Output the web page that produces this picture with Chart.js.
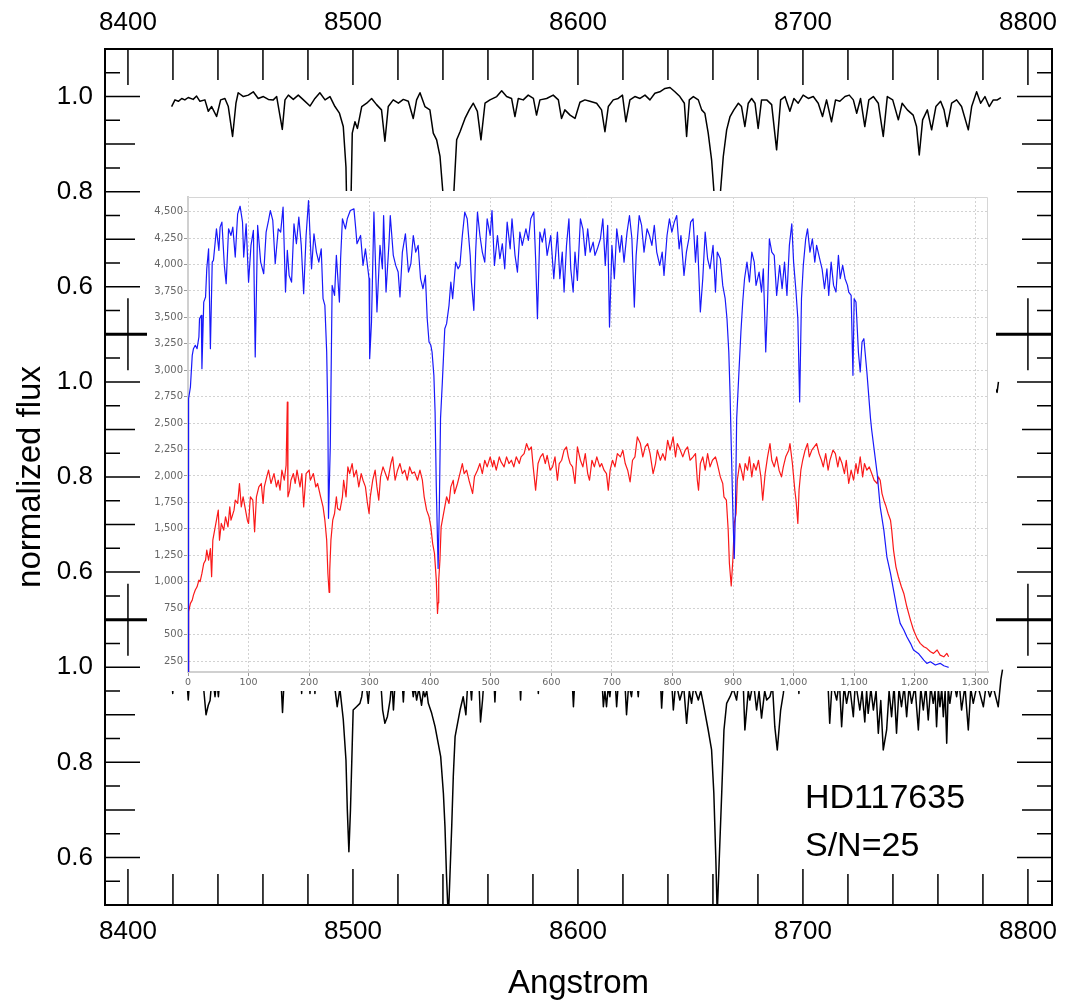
<!DOCTYPE html>
<html>
<head>
<meta charset="utf-8">
<title>HD117635 spectrum</title>
<script src="https://cdn.jsdelivr.net/npm/chart.js@4"></script>
<style>
  html, body { margin: 0; padding: 0; background: #fff; }
  #wrap { position: relative; width: 1066px; height: 1004px; overflow: hidden; }
  #main { position: absolute; left: 0; top: 0; }
  #inset { position: absolute; left: 147px; top: 191px; background: #fff; }
</style>
</head>
<body>
<div id="wrap">
  <canvas id="main" width="1066" height="1004"></canvas>
  <canvas id="inset" width="849" height="500"></canvas>
</div>
<script>
// ---- outer frame: three stacked normalized-flux panels ----
const waveRange = [8389.8, 8810.7];
const fluxRange = [0.5, 1.1];
const waveLabels = [8400, 8500, 8600, 8700, 8800];
const fluxLabels = [0.6, 0.8, 1.0];
const waveTickMarks = [8400, 8420, 8440, 8460, 8480, 8500, 8520, 8540, 8560, 8580, 8600,
                       8620, 8640, 8660, 8680, 8700, 8720, 8740, 8760, 8780, 8800];
const fluxTickMarks = [0.5, 0.55, 0.6, 0.65, 0.7, 0.75, 0.8, 0.85, 0.9, 0.95, 1.0, 1.05, 1.1];

const starName = 'HD117635';
const snLabel = 'S/N=25';

// top panel spectrum [wavelength, flux]
const topSpectrum = [
  [8419.4,0.979],[8420.9,0.993],[8422.4,0.990],[8423.9,0.996],[8425.3,0.993],[8426.8,0.998],
  [8429.0,0.994],[8430.5,1.001],[8432.0,0.990],[8434.2,0.993],[8435.7,0.969],[8437.2,0.979],
  [8439.4,0.958],[8441.2,0.993],[8443.1,0.996],[8444.6,0.979],[8446.5,0.916],[8448.0,0.986],
  [8449.0,1.008],[8451.3,1.000],[8453.5,1.003],[8455.7,1.010],[8457.9,0.996],[8460.2,1.000],
  [8462.4,0.994],[8464.6,0.993],[8466.1,1.000],[8468.6,0.931],[8469.8,0.993],[8471.3,1.003],
  [8473.5,0.994],[8475.7,1.003],[8478.0,0.993],[8480.9,0.980],[8483.1,0.996],[8485.3,1.008],
  [8487.6,0.993],[8489.8,1.000],[8492.0,0.979],[8494.0,0.965],[8495.7,0.937],[8496.9,0.852],
  [8497.5,0.700],[8498.3,0.620],[8499.0,0.750],[8499.7,0.923],[8500.9,0.947],[8502.0,0.933],
  [8503.9,0.979],[8506.1,0.986],[8508.3,0.996],[8510.5,0.983],[8512.7,0.972],[8514.2,0.906],
  [8515.7,0.979],[8517.9,0.993],[8520.2,0.986],[8522.4,0.994],[8524.6,0.990],[8526.8,0.954],
  [8528.3,0.993],[8529.8,1.008],[8532.0,0.979],[8534.2,0.972],[8535.7,0.923],[8537.2,0.909],
  [8538.7,0.874],[8539.9,0.803],[8540.9,0.680],[8542.4,0.560],[8543.9,0.680],[8544.9,0.803],
  [8546.1,0.909],[8547.6,0.926],[8549.8,0.954],[8551.7,0.972],[8553.5,0.986],[8555.3,0.969],
  [8556.9,0.909],[8558.7,0.986],[8560.9,0.993],[8563.9,1.000],[8566.1,1.012],[8568.3,1.000],
  [8570.5,0.996],[8572.0,0.958],[8573.5,0.996],[8575.7,0.993],[8577.9,1.003],[8580.2,0.996],
  [8581.6,0.961],[8583.1,0.993],[8586.1,0.996],[8589.0,1.003],[8591.3,0.993],[8592.7,0.954],
  [8594.2,0.972],[8596.5,0.961],[8598.7,0.954],[8600.9,0.988],[8603.1,0.993],[8605.3,0.990],
  [8608.3,0.986],[8610.5,0.972],[8612.0,0.926],[8613.5,0.979],[8615.7,0.993],[8617.9,0.996],
  [8619.8,1.003],[8621.3,0.947],[8623.1,0.993],[8625.3,1.000],[8627.6,0.996],[8629.8,1.003],
  [8632.0,0.993],[8634.2,1.007],[8636.4,1.010],[8638.7,1.017],[8640.9,1.019],[8643.1,1.010],
  [8645.3,1.000],[8647.3,0.986],[8648.3,0.916],[8649.5,0.993],[8651.3,1.000],[8653.5,0.993],
  [8655.0,0.972],[8656.4,0.965],[8657.9,0.923],[8659.4,0.867],[8660.4,0.803],[8661.3,0.650],
  [8662.3,0.540],[8663.4,0.803],[8664.6,0.874],[8666.1,0.930],[8667.6,0.958],[8669.3,0.972],
  [8671.3,0.986],[8672.7,0.979],[8674.2,0.937],[8675.7,0.986],[8677.2,0.996],[8678.7,0.986],
  [8680.1,0.933],[8681.6,0.993],[8683.9,0.993],[8686.1,0.983],[8688.3,0.888],[8690.1,0.993],
  [8692.0,1.000],[8694.2,0.969],[8696.0,0.996],[8697.9,0.986],[8700.1,1.003],[8702.4,0.996],
  [8704.6,1.000],[8706.8,0.986],[8708.7,0.958],[8710.5,0.993],[8712.7,0.947],[8714.5,0.993],
  [8716.4,0.990],[8718.7,1.000],[8720.6,1.003],[8722.4,0.993],[8723.9,0.965],[8725.6,0.996],
  [8727.5,0.937],[8729.3,0.993],[8731.3,1.000],[8733.5,0.986],[8735.7,0.916],[8737.5,1.000],
  [8739.9,0.993],[8742.4,0.951],[8744.1,0.986],[8746.4,0.972],[8749.0,0.961],[8750.5,0.937],
  [8751.7,0.877],[8753.2,0.951],[8755.3,0.972],[8757.2,0.930],[8759.1,0.979],[8761.2,0.990],
  [8762.7,0.972],[8764.1,0.937],[8766.1,0.986],[8768.3,0.993],[8770.5,0.979],[8773.5,0.930],
  [8775.0,0.979],[8777.2,1.010],[8779.0,0.986],[8780.9,1.000],[8782.8,0.979],[8784.6,0.993],
  [8786.4,0.993],[8788.0,0.998]
];

// middle panel: only the last few Angstrom show past the inset
const midSpectrum = [[8785.0,0.990],[8786.3,0.978],[8786.9,1.000]];

// bottom panel spectrum (S/N=25), only the dips below the inset are visible
const botSpectrum = [
  [8419.4,0.985],[8419.9,0.945],[8420.6,0.995],[8425.8,1.000],[8426.8,0.931],[8427.8,0.998],
  [8433.0,0.990],[8434.7,0.900],[8435.7,0.920],[8436.5,0.930],[8437.5,0.985],[8438.7,0.938],
  [8439.5,0.975],[8440.2,0.938],[8441.3,1.000],[8467.8,0.995],[8468.7,0.905],[8469.7,1.000],
  [8476.7,0.990],[8477.2,0.945],[8477.8,0.995],[8480.5,0.990],[8480.9,0.945],[8481.5,0.995],
  [8482.7,0.990],[8483.1,0.945],[8483.6,0.995],[8491.5,0.990],[8492.0,0.955],[8493.0,0.917],
  [8494.2,0.955],[8495.7,0.890],[8496.9,0.805],[8497.5,0.700],[8498.2,0.612],[8498.9,0.700],
  [8499.7,0.840],[8500.1,0.910],[8501.6,0.917],[8503.1,0.924],[8503.9,0.938],[8505.3,0.990],
  [8506.8,0.924],[8508.0,0.990],[8512.5,0.960],[8513.2,0.910],[8514.2,0.882],[8515.3,0.896],
  [8516.5,0.931],[8517.3,0.970],[8518.0,0.910],[8519.0,0.990],[8521.8,0.975],[8522.4,0.927],
  [8523.2,0.990],[8526.0,0.970],[8526.8,0.938],[8527.5,0.960],[8528.3,0.931],[8529.3,0.955],
  [8530.5,0.920],[8531.3,0.950],[8532.0,0.938],[8532.8,0.950],[8533.5,0.924],[8535.0,0.903],
  [8536.5,0.875],[8537.9,0.840],[8539.0,0.812],[8540.2,0.735],[8540.9,0.665],[8541.6,0.560],
  [8542.4,0.470],[8543.1,0.560],[8543.9,0.665],[8544.6,0.770],[8545.4,0.854],[8546.1,0.872],
  [8547.6,0.910],[8549.0,0.938],[8550.2,0.900],[8551.3,0.990],[8552.2,0.960],[8552.7,0.931],
  [8553.5,0.990],[8556.0,0.970],[8556.7,0.885],[8557.6,0.931],[8558.6,1.000],[8562.5,0.990],
  [8563.1,0.927],[8563.8,1.000],[8574.0,0.990],[8574.5,0.931],[8575.2,1.000],[8582.0,0.990],
  [8582.4,0.945],[8583.0,1.000],[8597.3,0.985],[8598.0,0.917],[8598.8,0.990],[8610.5,0.990],
  [8611.3,0.917],[8612.0,0.950],[8612.7,0.917],[8613.5,0.960],[8614.2,0.938],[8615.3,0.990],
  [8616.5,0.975],[8617.2,0.917],[8618.3,0.990],[8620.8,0.975],[8621.6,0.900],[8622.5,0.960],
  [8623.0,0.955],[8623.8,0.938],[8625.0,0.990],[8626.2,0.970],[8626.8,0.938],[8627.8,1.000],
  [8636.5,0.990],[8637.2,0.914],[8638.2,0.995],[8641.6,0.975],[8642.4,0.910],[8643.5,0.970],
  [8645.3,0.931],[8647.0,0.960],[8648.3,0.882],[8649.5,0.950],[8650.5,0.924],[8651.5,0.960],
  [8653.5,0.931],[8654.6,0.950],[8655.7,0.924],[8657.9,0.868],[8659.4,0.826],[8660.4,0.735],
  [8661.3,0.595],[8661.9,0.480],[8662.8,0.595],[8663.9,0.735],[8664.9,0.868],[8666.1,0.924],
  [8667.6,0.938],[8669.0,0.955],[8670.5,0.931],[8672.0,0.990],[8673.5,0.960],[8674.2,0.868],
  [8675.7,0.950],[8676.4,0.931],[8678.0,0.970],[8679.4,0.910],[8680.5,0.950],[8681.6,0.893],
  [8683.0,0.950],[8683.9,0.931],[8685.3,0.938],[8686.5,0.960],[8687.5,0.875],[8688.6,0.826],
  [8690.1,0.910],[8691.3,0.945],[8692.5,1.000],[8697.8,0.990],[8698.2,0.945],[8698.7,1.000],
  [8711.0,0.980],[8711.9,0.882],[8713.0,0.970],[8714.0,0.950],[8715.0,0.931],[8716.2,0.970],
  [8717.2,0.875],[8718.3,0.960],[8719.4,0.924],[8720.8,0.960],[8722.4,0.896],[8723.2,0.960],
  [8724.0,0.950],[8725.3,0.910],[8726.3,0.950],[8727.5,0.885],[8728.3,0.950],[8729.0,0.903],
  [8730.2,0.955],[8731.3,0.910],[8732.5,0.950],[8733.5,0.861],[8734.6,0.930],[8735.7,0.826],
  [8737.2,0.868],[8738.3,0.950],[8739.4,0.896],[8740.5,0.960],[8741.6,0.861],[8742.7,0.955],
  [8743.8,0.917],[8745.0,0.960],[8746.1,0.896],[8747.2,0.960],[8748.3,0.924],[8749.8,0.960],
  [8751.3,0.868],[8752.4,0.955],[8753.5,0.910],[8754.6,0.960],[8755.7,0.889],[8756.8,0.960],
  [8757.9,0.924],[8758.7,0.950],[8759.4,0.875],[8760.2,0.955],[8760.9,0.917],[8761.7,0.955],
  [8762.4,0.896],[8763.2,0.950],[8763.9,0.840],[8764.6,0.955],[8765.3,0.924],[8766.8,0.975],
  [8768.3,0.938],[8769.4,0.970],[8770.5,0.910],[8772.0,0.960],[8773.5,0.868],[8774.6,0.955],
  [8775.7,0.924],[8777.5,0.965],[8780.2,0.917],[8781.5,0.965],[8783.1,0.938],[8784.5,0.960],
  [8786.8,0.917],[8788.0,0.975],[8788.7,0.995]
];

// ---- inset: raw counts against pixel index ----
const insetXRange = [0, 1321];
const insetYRange = [146, 4639];
const insetXTicks = [0, 100, 200, 300, 400, 500, 600, 700, 800, 900, 1000, 1100, 1200, 1300];
const insetYTicks = [250, 500, 750, 1000, 1250, 1500, 1750, 2000, 2250, 2500, 2750, 3000,
                     3250, 3500, 3750, 4000, 4250, 4500];

const blueCounts = [
  [0,150],[1,2732],[4,2842],[7,3141],[9,3204],[12,3236],[15,3204],[18,3315],[19,3488],[22,3519],
  [23,3015],[26,3645],[29,3693],[31,3960],[34,4149],[37,3204],[40,4023],[42,4039],[47,4338],
  [51,4134],[53,4354],[56,4401],[60,3992],[63,3819],[67,4338],[71,4275],[74,4354],[78,4071],
  [82,4480],[86,4552],[90,4401],[92,4071],[96,4386],[100,3834],[104,4181],[108,4323],[111,3126],
  [115,4370],[120,4023],[125,3913],[129,4307],[133,4417],[136,4511],[140,4417],[144,4008],
  [149,4338],[153,4307],[157,4543],[161,3740],[164,4134],[167,3897],[171,3834],[175,4386],
  [179,4197],[183,4449],[187,4181],[191,3724],[195,4275],[199,4606],[204,3960],[208,4291],
  [212,4118],[216,4023],[220,4149],[223,3677],[226,3614],[229,3173],[231,2543],[232,1600],
  [235,2290],[238,3803],[242,3708],[245,4087],[250,3645],[252,4055],[255,4433],[260,4338],
  [263,4433],[268,4511],[274,4527],[277,4338],[279,4197],[285,4275],[289,3992],[293,4149],
  [299,3866],[300,3110],[303,3456],[307,4496],[312,3551],[317,4181],[321,3960],[323,4464],
  [327,3740],[332,4212],[334,4464],[339,4087],[343,3992],[347,3929],[350,3693],[354,4118],
  [359,4291],[364,3929],[368,4008],[372,4275],[376,4118],[380,4181],[384,3866],[388,3771],
  [392,3897],[395,3488],[398,3267],[401,3236],[403,3173],[406,2952],[408,2606],[410,1900],
  [413,1125],[415,1700],[417,2543],[420,2889],[424,3393],[427,3441],[431,3614],[434,3834],
  [437,3677],[442,4023],[446,3960],[449,3992],[453,4275],[457,4496],[461,4433],[466,4087],
  [468,3834],[472,3567],[475,4118],[478,4496],[482,4275],[486,4118],[490,4023],[494,4433],
  [499,4275],[502,4511],[506,3992],[511,4275],[515,4055],[519,4197],[523,3960],[527,4401],
  [532,4149],[535,4433],[540,4087],[544,3929],[548,4307],[552,4181],[558,4338],[562,4228],
  [566,4433],[571,4496],[574,4055],[577,3488],[581,4307],[585,4212],[589,4338],[593,4087],
  [599,4275],[604,3866],[610,4307],[614,3866],[618,4118],[621,3740],[625,4181],[629,4433],
  [632,3960],[636,3740],[639,4118],[643,3850],[648,4433],[652,4338],[656,4087],[660,4338],
  [664,4118],[669,4212],[672,4087],[676,4149],[681,4244],[685,4433],[689,3992],[693,4370],
  [696,3409],[700,4181],[704,3866],[708,4338],[713,4118],[716,4275],[720,4023],[725,4307],
  [729,4464],[733,4244],[737,3598],[740,4087],[745,4464],[749,4370],[753,4118],[758,4338],
  [762,4275],[766,4181],[770,4370],[774,4118],[779,3992],[783,4118],[786,3897],[791,4275],
  [795,4433],[799,4307],[803,4401],[807,4464],[811,4149],[814,4275],[819,3897],[823,4118],
  [827,4244],[830,4401],[834,4433],[838,4023],[841,4275],[846,3551],[850,3866],[854,4307],
  [858,4055],[862,3960],[867,4181],[871,3740],[874,4118],[879,4055],[883,3803],[887,3677],
  [890,3488],[893,3173],[895,2795],[897,2300],[900,1600],[902,1220],[904,1700],[906,2543],
  [910,3015],[913,3362],[916,3645],[919,3866],[923,4023],[927,3835],[931,4118],[935,4023],
  [938,3803],[943,3929],[947,3740],[950,3960],[954,3173],[957,3645],[960,4244],[964,4118],
  [968,4087],[972,3708],[977,3992],[981,3771],[985,4023],[989,3708],[993,4181],[997,4386],
  [1000,4023],[1004,3740],[1007,3488],[1010,2700],[1013,3677],[1016,3992],[1020,4244],
  [1023,4338],[1027,4118],[1031,4244],[1035,4023],[1038,4181],[1043,4055],[1047,3960],
  [1051,3771],[1055,3960],[1058,3708],[1062,4023],[1066,3803],[1070,3740],[1074,4087],
  [1077,3866],[1081,3992],[1085,3866],[1089,3803],[1091,3740],[1095,3708],[1098,2952],
  [1100,3677],[1103,3645],[1107,3173],[1110,2984],[1113,3267],[1116,3299],[1118,3173],
  [1121,2984],[1124,2763],[1127,2543],[1129,2433],[1138,2023],[1143,1708],[1149,1488],
  [1154,1236],[1160,1078],[1165,921],[1171,732],[1176,606],[1182,543],[1187,480],[1193,417],
  [1198,354],[1206,322],[1215,259],[1220,228],[1226,243],[1234,212],[1242,228],[1248,205],
  [1253,196],[1256,190]
];

const redCounts = [
  [0,150],[1,716],[4,795],[7,826],[9,873],[12,921],[15,952],[18,1015],[20,1000],[23,1078],
  [26,1173],[29,1204],[31,1299],[34,1204],[37,1314],[39,1047],[41,1393],[44,1488],[47,1582],
  [50,1677],[52,1393],[55,1551],[59,1488],[62,1614],[66,1519],[69,1708],[71,1582],[76,1677],
  [78,1771],[82,1740],[85,1929],[88,1708],[91,1803],[95,1677],[98,1582],[100,1551],[103,1803],
  [107,1771],[110,1472],[113,1803],[117,1897],[121,1929],[124,1740],[126,1897],[130,1992],
  [133,2055],[137,1929],[142,2023],[146,1897],[149,1960],[152,1866],[155,2055],[159,1960],
  [162,2100],[164,2700],[165,1803],[168,1866],[170,1960],[174,2023],[177,1929],[180,2055],
  [185,1897],[188,2023],[191,1708],[195,2023],[200,2055],[202,1960],[207,2023],[211,1897],
  [214,1929],[219,1803],[223,1708],[226,1582],[229,1393],[231,1078],[233,900],[234,1100],
  [236,1393],[239,1582],[242,1645],[245,1803],[247,1693],[251,1677],[255,1803],[257,1960],
  [261,1803],[264,2086],[267,2023],[271,2118],[274,1992],[278,2055],[282,1897],[286,2023],
  [289,1960],[293,1897],[296,1755],[299,1645],[301,1803],[305,1960],[309,2055],[312,1897],
  [315,1771],[318,1992],[322,2086],[326,2023],[330,1960],[335,2118],[338,2181],[342,1960],
  [346,2055],[350,2118],[354,2023],[358,2055],[362,1960],[366,2086],[370,2023],[374,2039],
  [379,1960],[383,2055],[387,1960],[390,1803],[394,1677],[398,1614],[401,1519],[404,1361],
  [407,1267],[410,1015],[412,700],[413,800],[414,1015],[416,1204],[418,1519],[421,1614],
  [424,1708],[427,1803],[431,1740],[434,1897],[438,1960],[440,1834],[445,1929],[449,2023],
  [453,2118],[456,2023],[460,2055],[464,1960],[467,1897],[470,1834],[473,1992],[478,2055],
  [482,2118],[486,2023],[490,2149],[494,2086],[499,2181],[503,2086],[505,2149],[509,2055],
  [514,2181],[517,2133],[522,2086],[526,2181],[530,2118],[534,2149],[538,2086],[542,2181],
  [547,2118],[550,2181],[555,2212],[559,2307],[563,2244],[567,2275],[570,2086],[574,1866],
  [578,2118],[582,2181],[586,2212],[590,2118],[593,2196],[598,2055],[602,2086],[606,2181],
  [610,1960],[613,2118],[617,2149],[621,2244],[625,2275],[628,2181],[631,2118],[635,2086],
  [639,1929],[643,2275],[648,2149],[652,2086],[656,2212],[660,2023],[663,1960],[667,2149],
  [671,2086],[675,2181],[680,2086],[683,2118],[687,2055],[691,2023],[694,1866],[697,2055],
  [701,2149],[705,2086],[709,2212],[714,2181],[718,2244],[722,2118],[726,2055],[730,1944],
  [734,2149],[738,2181],[742,2370],[747,2307],[751,2181],[755,2275],[759,2307],[763,2212],
  [768,2023],[772,2118],[775,2244],[780,2149],[784,2212],[788,2149],[792,2338],[796,2244],
  [801,2370],[805,2181],[808,2307],[813,2244],[817,2181],[821,2244],[825,2275],[829,2149],
  [834,2181],[838,2212],[841,1960],[843,1866],[846,2118],[850,2181],[854,2055],[858,2212],
  [862,2086],[866,2149],[871,2181],[874,2118],[879,1992],[883,1929],[885,1803],[889,1771],
  [892,1488],[894,1173],[897,960],[900,1236],[902,1551],[905,1645],[907,1960],[911,2118],
  [915,2023],[917,1960],[920,2118],[924,2055],[927,2181],[931,1992],[934,2118],[938,2055],
  [942,2149],[946,1992],[949,1771],[953,2023],[957,2181],[961,2307],[964,2149],[968,2086],
  [972,2181],[976,2055],[980,1992],[983,2086],[987,2181],[992,2244],[994,2307],[998,2118],
  [1002,1866],[1004,1771],[1007,1551],[1009,1866],[1012,2055],[1015,2149],[1019,2244],
  [1023,2307],[1026,2181],[1030,2244],[1034,2275],[1038,2307],[1042,2212],[1046,2149],
  [1049,2086],[1053,2212],[1057,2055],[1060,2149],[1065,2244],[1069,2212],[1073,2086],
  [1076,2181],[1080,2118],[1084,2023],[1087,2149],[1091,1929],[1095,2055],[1099,1960],
  [1103,2118],[1106,2023],[1110,2181],[1114,1992],[1117,2118],[1121,2055],[1125,2086],
  [1129,2023],[1133,1960],[1138,1929],[1140,1992],[1143,1960],[1146,1834],[1149,1771],
  [1152,1724],[1156,1645],[1160,1582],[1162,1488],[1165,1299],[1169,1141],[1173,1047],
  [1178,952],[1182,889],[1187,763],[1193,637],[1198,543],[1204,464],[1209,417],[1215,385],
  [1220,370],[1226,338],[1231,322],[1237,354],[1242,306],[1248,290],[1253,322],[1256,290]
];

const sansFont = '"Liberation Sans", Arial, Helvetica, sans-serif';
const toPoints = pairs => pairs.map(([x, y]) => ({ x, y }));

// inward tick marks on every panel, panel separators and the outer box
const panelFrame = {
  id: 'panelFrame',
  afterDatasetsDraw(chart) {
    const { ctx, chartArea: area, scales } = chart;
    const xs = scales.x;
    ctx.save();
    ctx.strokeStyle = '#000';
    ctx.lineWidth = 1.5;
    ['yTop', 'yMid', 'yBot'].forEach(id => {
      const ys = scales[id];
      ctx.beginPath();
      waveTickMarks.forEach(w => {
        const px = xs.getPixelForValue(w);
        const len = w % 100 === 0 ? 36 : 31;
        ctx.moveTo(px, ys.top); ctx.lineTo(px, ys.top + len);
        ctx.moveTo(px, ys.bottom); ctx.lineTo(px, ys.bottom - len);
      });
      fluxTickMarks.forEach(f => {
        const py = ys.getPixelForValue(f);
        const k = Math.round(f * 100);
        const len = k % 10 ? 15 : ((k / 10) % 2 ? 30 : 35);
        ctx.moveTo(area.left, py); ctx.lineTo(area.left + len, py);
        ctx.moveTo(area.right, py); ctx.lineTo(area.right - len, py);
      });
      ctx.stroke();
    });
    ctx.lineWidth = 3;
    ctx.beginPath();
    ['yMid', 'yBot'].forEach(id => {
      const t = scales[id].top;
      ctx.moveTo(area.left, t); ctx.lineTo(area.right, t);
    });
    ctx.stroke();
    ctx.lineWidth = 2;
    ctx.strokeRect(area.left, area.top, area.right - area.left, area.bottom - area.top);
    ctx.restore();
  }
};

const starLabel = {
  id: 'starLabel',
  afterDraw(chart) {
    const ctx = chart.ctx;
    ctx.save();
    ctx.font = '34px ' + sansFont;
    ctx.fillStyle = '#000';
    ctx.textBaseline = 'alphabetic';
    ctx.fillText(starName, 805, 808);
    ctx.fillText(snLabel, 805, 856);
    ctx.restore();
  }
};

function panelAxis(weight, title) {
  return {
    type: 'linear',
    position: 'left',
    stack: 'panels',
    stackWeight: 1,
    weight: weight,
    min: fluxRange[0],
    max: fluxRange[1],
    grid: { display: false, drawTicks: false },
    border: { display: false },
    afterBuildTicks: s => { s.ticks = fluxLabels.map(v => ({ value: v })); },
    afterFit: s => { s.width = 105; s.paddingTop = 0; s.paddingBottom = 0; },
    ticks: {
      padding: 12,
      color: '#000',
      font: { family: sansFont, size: 26 },
      callback: v => Number(v).toFixed(1)
    },
    title: title ? {
      display: true,
      text: title,
      color: '#000',
      font: { family: sansFont, size: 33 },
      padding: { top: 11, bottom: 0 }
    } : { display: false }
  };
}

function waveAxis(position, height, title) {
  return {
    type: 'linear',
    position: position,
    min: waveRange[0],
    max: waveRange[1],
    grid: { display: false, drawTicks: false },
    border: { display: false },
    afterBuildTicks: s => { s.ticks = waveLabels.map(v => ({ value: v })); },
    afterFit: s => { s.height = height; s.paddingLeft = 0; s.paddingRight = 0; },
    ticks: {
      padding: 11,
      maxRotation: 0,
      autoSkip: false,
      color: '#000',
      font: { family: sansFont, size: 26 },
      callback: v => String(v)
    },
    title: title ? {
      display: true,
      text: title,
      color: '#000',
      font: { family: sansFont, size: 33 },
      padding: { top: 0, bottom: 0 }
    } : { display: false }
  };
}

function spectrumSet(pairs, yAxisID) {
  return {
    data: toPoints(pairs),
    xAxisID: 'x',
    yAxisID: yAxisID,
    borderColor: '#000',
    borderWidth: 1.5,
    borderJoinStyle: 'round',
    pointRadius: 0,
    tension: 0
  };
}

new Chart(document.getElementById('main'), {
  type: 'line',
  data: {
    datasets: [
      spectrumSet(topSpectrum, 'yTop'),
      spectrumSet(midSpectrum, 'yMid'),
      spectrumSet(botSpectrum, 'yBot')
    ]
  },
  options: {
    responsive: false,
    animation: false,
    devicePixelRatio: 1,
    events: [],
    layout: { padding: { left: 0, right: 14, top: 0, bottom: 0 } },
    plugins: { legend: { display: false }, tooltip: { enabled: false } },
    scales: {
      x: waveAxis('bottom', 99, 'Angstrom'),
      xTop: waveAxis('top', 49, null),
      yBot: panelAxis(1, null),
      yMid: panelAxis(2, 'normalized flux'),
      yTop: panelAxis(3, null)
    }
  },
  plugins: [panelFrame, starLabel]
});

// ---- inset chart ----
const insetBox = {
  id: 'insetBox',
  beforeDatasetsDraw(chart) {
    const { ctx, chartArea: a } = chart;
    ctx.save();
    ctx.strokeStyle = '#d6d6d6';
    ctx.lineWidth = 1;
    ctx.beginPath();
    ctx.moveTo(a.left, a.top + 0.5);
    ctx.lineTo(a.right - 0.5, a.top + 0.5);
    ctx.lineTo(a.right - 0.5, a.bottom);
    ctx.stroke();
    ctx.restore();
  }
};

function insetAxis(range, ticks, fit, fontSize) {
  return {
    type: 'linear',
    min: range[0],
    max: range[1],
    afterBuildTicks: s => { s.ticks = ticks.map(v => ({ value: v })); },
    afterFit: fit,
    grid: { color: '#d2d2d2', lineWidth: 1, tickLength: 4, tickColor: '#999' },
    border: { display: true, color: '#d0d0d0', width: 2, dash: [2, 2] },
    ticks: {
      padding: 1,
      maxRotation: 0,
      autoSkip: false,
      color: '#666',
      font: { family: '"DejaVu Sans", Verdana, sans-serif', size: fontSize }
    }
  };
}

new Chart(document.getElementById('inset'), {
  type: 'line',
  data: {
    datasets: [
      { data: toPoints(blueCounts), borderColor: 'rgb(25,25,250)', borderWidth: 1.2,
        borderJoinStyle: 'round', pointRadius: 0, tension: 0 },
      { data: toPoints(redCounts), borderColor: 'rgb(250,25,25)', borderWidth: 1.2,
        borderJoinStyle: 'round', pointRadius: 0, tension: 0 }
    ]
  },
  options: {
    responsive: false,
    animation: false,
    devicePixelRatio: 1,
    events: [],
    locale: 'en-US',
    layout: { padding: { left: 0, right: 8, top: 6, bottom: 0 } },
    plugins: { legend: { display: false }, tooltip: { enabled: false } },
    scales: {
      x: insetAxis(insetXRange, insetXTicks,
        s => { s.height = 19; s.paddingLeft = 0; s.paddingRight = 0; }, 9.5),
      y: insetAxis(insetYRange, insetYTicks,
        s => { s.width = 41; s.paddingTop = 0; s.paddingBottom = 0; }, 10)
    }
  },
  plugins: [insetBox]
});
</script>
</body>
</html>
